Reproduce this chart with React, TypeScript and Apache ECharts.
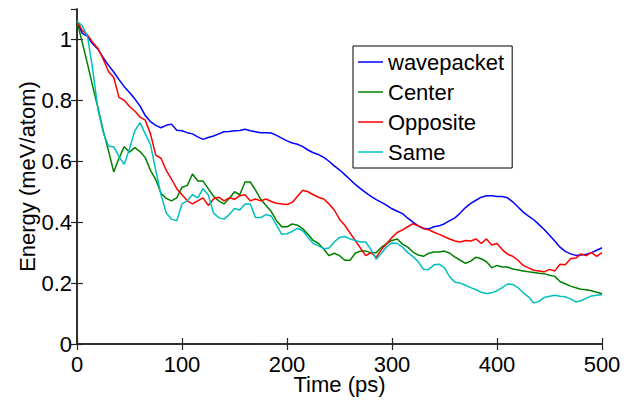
import React, { useEffect, useRef } from "react";
import * as echarts from "echarts";

const TIMES = [
  0, 5, 10, 15, 20, 25, 30, 35, 40, 45,
  50, 55, 60, 65, 70, 75, 80, 85, 90, 95,
  100, 105, 110, 115, 120, 125, 130, 135, 140, 145,
  150, 155, 160, 165, 170, 175, 180, 185, 190, 195,
  200, 205, 210, 215, 220, 225, 230, 235, 240, 245,
  250, 255, 260, 265, 270, 275, 280, 285, 290, 295,
  300, 305, 310, 315, 320, 325, 330, 335, 340, 345,
  350, 355, 360, 365, 370, 375, 380, 385, 390, 395,
  400, 405, 410, 415, 420, 425, 430, 435, 440, 445,
  450, 455, 460, 465, 470, 475, 480, 485, 490, 495,
  500,
];

const WAVEPACKET = [
  1.06, 1.02, 1.01, 0.985, 0.968, 0.94, 0.915, 0.893, 0.868, 0.845,
  0.826, 0.805, 0.782, 0.75, 0.73, 0.718, 0.71, 0.718, 0.722, 0.702,
  0.70, 0.694, 0.69, 0.68, 0.672, 0.678, 0.683, 0.69, 0.697, 0.698,
  0.70, 0.701, 0.705, 0.70, 0.697, 0.694, 0.694, 0.693, 0.685, 0.676,
  0.667, 0.66, 0.656, 0.648, 0.637, 0.628, 0.622, 0.613, 0.60, 0.585,
  0.572, 0.556, 0.54, 0.524, 0.51, 0.497, 0.485, 0.474, 0.465, 0.455,
  0.444, 0.436, 0.428, 0.413, 0.40, 0.388, 0.38, 0.378, 0.385, 0.388,
  0.395, 0.405, 0.414, 0.43, 0.448, 0.462, 0.472, 0.482, 0.487, 0.487,
  0.484, 0.484, 0.48, 0.467, 0.45, 0.433, 0.42, 0.408, 0.392, 0.376,
  0.357, 0.338, 0.318, 0.304, 0.296, 0.291, 0.292, 0.295, 0.30, 0.308,
  0.316,
];

const CENTER = [
  1.06, 0.99, 0.92, 0.845, 0.775, 0.70, 0.634, 0.565, 0.61, 0.648,
  0.63, 0.645, 0.632, 0.612, 0.57, 0.54, 0.495, 0.478, 0.47, 0.48,
  0.515, 0.52, 0.558, 0.535, 0.535, 0.51, 0.485, 0.47, 0.46, 0.478,
  0.50, 0.49, 0.532, 0.532, 0.505, 0.475, 0.455, 0.435, 0.405, 0.385,
  0.385, 0.394, 0.39, 0.378, 0.36, 0.34, 0.33, 0.312, 0.29, 0.298,
  0.29, 0.275, 0.275, 0.298, 0.305, 0.305, 0.30, 0.30, 0.318, 0.33,
  0.34, 0.345, 0.328, 0.318, 0.302, 0.292, 0.288, 0.298, 0.302, 0.302,
  0.305, 0.298, 0.285, 0.275, 0.265, 0.272, 0.285, 0.28, 0.27, 0.25,
  0.258, 0.253, 0.253, 0.246, 0.243, 0.24, 0.237, 0.235, 0.232, 0.231,
  0.226, 0.222, 0.205, 0.198, 0.19, 0.185, 0.18, 0.178, 0.175, 0.17,
  0.165,
];

const OPPOSITE = [
  1.06, 1.03, 1.015, 0.99, 0.97, 0.935, 0.895, 0.875, 0.81, 0.80,
  0.78, 0.765, 0.745, 0.735, 0.69, 0.62, 0.61, 0.57, 0.541, 0.51,
  0.49, 0.47, 0.46, 0.47, 0.48, 0.455, 0.476, 0.482, 0.47, 0.48,
  0.475, 0.487, 0.49, 0.47, 0.476, 0.47, 0.476, 0.468, 0.462, 0.46,
  0.458, 0.465, 0.485, 0.505, 0.50, 0.49, 0.482, 0.476, 0.46, 0.44,
  0.41, 0.39, 0.365, 0.34, 0.315, 0.29, 0.30, 0.285, 0.31, 0.33,
  0.35, 0.366, 0.375, 0.385, 0.395, 0.388, 0.378, 0.375, 0.367, 0.36,
  0.352, 0.345, 0.338, 0.335, 0.34, 0.338, 0.345, 0.33, 0.345, 0.325,
  0.33, 0.31, 0.295, 0.288, 0.275, 0.258, 0.25, 0.242, 0.24, 0.237,
  0.245, 0.24, 0.262, 0.26, 0.28, 0.282, 0.296, 0.29, 0.30, 0.288,
  0.30,
];

const SAME = [
  1.06, 1.045, 1.01, 0.9, 0.77, 0.694, 0.65, 0.647, 0.615, 0.59,
  0.64, 0.70, 0.727, 0.69, 0.655, 0.57, 0.49, 0.43, 0.41, 0.405,
  0.46, 0.47, 0.49, 0.48, 0.51, 0.49, 0.43, 0.415, 0.41, 0.425,
  0.445, 0.44, 0.46, 0.46, 0.415, 0.415, 0.425, 0.42, 0.39, 0.36,
  0.362, 0.37, 0.38, 0.372, 0.35, 0.33, 0.322, 0.313, 0.315, 0.335,
  0.35, 0.353, 0.345, 0.34, 0.335, 0.335, 0.31, 0.278, 0.298, 0.32,
  0.332, 0.33, 0.318, 0.30, 0.287, 0.27, 0.245, 0.245, 0.26, 0.262,
  0.25, 0.22, 0.203, 0.20, 0.193, 0.185, 0.178, 0.17, 0.166, 0.168,
  0.175, 0.185, 0.197, 0.195, 0.185, 0.168, 0.155, 0.135, 0.14, 0.153,
  0.157, 0.16, 0.157, 0.155, 0.148, 0.138, 0.142, 0.15, 0.158, 0.16,
  0.162,
];

const SERIES_NAMES = ["wavepacket", "Center", "Opposite", "Same"];
const SERIES_VALUES = [WAVEPACKET, CENTER, OPPOSITE, SAME];
const SERIES_COLORS = ["#0000ff", "#008000", "#ff0000", "#00bfbf"];

const FONT = "'Liberation Sans', Arial, Helvetica, sans-serif";
const AXIS_COLOR = "#262626";

export default function App() {
  const ref = useRef<HTMLDivElement>(null);

  useEffect(() => {
    if (!ref.current) return;
    const chart = echarts.init(ref.current, undefined, { renderer: "svg" });

    const axisLine = { show: true, lineStyle: { color: AXIS_COLOR, width: 1.5 } };
    const axisTick = { show: true, inside: true, length: 6, lineStyle: { color: AXIS_COLOR, width: 1.2 } };

    chart.setOption({
      animation: false,
      backgroundColor: "#ffffff",
      textStyle: { fontFamily: FONT },
      grid: { left: 77, right: 35, top: 9, bottom: 54, containLabel: false },
      legend: {
        orient: "vertical",
        left: 353,
        top: 46,
        data: SERIES_NAMES,
        icon: "rect",
        itemWidth: 25,
        itemHeight: 1.5,
        itemGap: 8,
        padding: [5, 8, 5, 5],
        borderColor: "#000",
        borderWidth: 1,
        backgroundColor: "#fff",
        textStyle: { fontSize: 22, color: "#000", fontFamily: FONT, lineHeight: 22 },
        selectedMode: false,
      },
      xAxis: [
        {
          type: "value",
          position: "bottom",
          min: 0,
          max: 500,
          interval: 100,
          axisLine,
          axisTick,
          splitLine: { show: false },
          axisLabel: { fontSize: 22, color: "#000", margin: 9, fontFamily: FONT },
          name: "Time (ps)",
          nameLocation: "middle",
          nameGap: 29,
          nameMoveOverlap: false,
          nameTextStyle: { fontSize: 22, color: "#000", fontFamily: FONT },
        },
        {
          type: "value",
          position: "top",
          min: 0,
          max: 500,
          interval: 100,
          axisLine,
          axisTick,
          splitLine: { show: false },
          axisLabel: { show: false },
        },
      ],
      yAxis: [
        {
          type: "value",
          position: "left",
          min: 0,
          max: 1.1,
          interval: 0.2,
          axisLine,
          axisTick,
          splitLine: { show: false },
          axisLabel: { fontSize: 22, color: "#000", margin: 5, showMaxLabel: false, fontFamily: FONT },
          name: "Energy (meV/atom)",
          nameLocation: "middle",
          nameGap: 39,
          nameMoveOverlap: false,
          nameTextStyle: { fontSize: 22, color: "#000", fontFamily: FONT },
        },
        {
          type: "value",
          position: "right",
          min: 0,
          max: 1.1,
          interval: 0.2,
          axisLine,
          axisTick,
          splitLine: { show: false },
          axisLabel: { show: false },
        },
      ],
      series: SERIES_NAMES.map((name, i) => ({
        name,
        type: "line",
        xAxisIndex: 0,
        yAxisIndex: 0,
        symbol: "none",
        smooth: false,
        color: SERIES_COLORS[i],
        lineStyle: { color: SERIES_COLORS[i], width: 1.5 },
        data: TIMES.map((t, j) => [t, SERIES_VALUES[i][j]]),
      })),
    });

    return () => chart.dispose();
  }, []);

  return (
    <div
      ref={ref}
      style={{ position: "absolute", left: 0, top: 0, width: 637, height: 400 }}
    />
  );
}
